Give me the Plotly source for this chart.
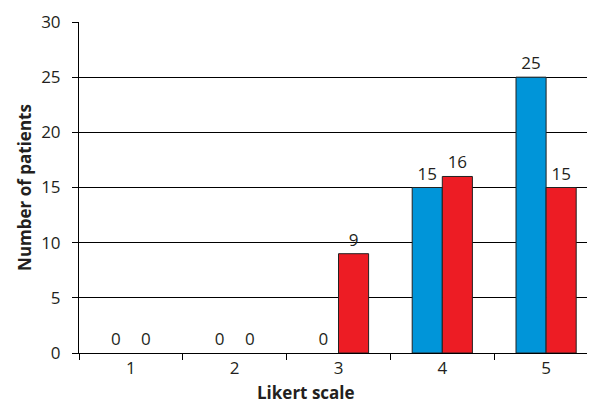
import plotly.graph_objects as go

categories = [1, 2, 3, 4, 5]
series_a = [0, 0, 0, 15, 25]
series_b = [0, 0, 9, 16, 15]
tick_labels = ["1", "2", "3", "4", "5"]

FONT = "Open Sans"
fig = go.Figure()
for vals, col in ((series_a, "#0095D9"), (series_b, "#ED1C24")):
    fig.add_trace(go.Bar(x=categories, y=vals,
                         marker=dict(color=col, line=dict(color="#222222",
                                                          width=[1 if v else 0 for v in vals])),
                         text=[str(v) for v in vals], textposition="outside",
                         textfont=dict(size=17, color="#231f20", family=FONT), cliponaxis=False))

fig.update_layout(
    width=595, height=405,
    margin=dict(l=71, r=5, t=14, b=60),
    barmode="group", bargap=0.42, bargroupgap=0,
    showlegend=False,
    plot_bgcolor="white", paper_bgcolor="white",
    font=dict(family=FONT, size=17, color="#231f20"),
)
fig.add_annotation(text="<b>Likert scale</b>", xref="paper", yref="paper",
                   x=0.437, y=-0.118, xanchor="center", yanchor="middle",
                   showarrow=False, font=dict(size=17, color="#231f20", family=FONT))
fig.update_xaxes(
    range=[0.5, 5.5], tickvals=categories, ticktext=tick_labels, ticks="",
    showline=True, linecolor="black", linewidth=1, showgrid=False, zeroline=False,
    minor=dict(tickvals=[0.5, 1.5, 2.5, 3.5, 4.5], ticks="outside", ticklen=6,
               tickcolor="black", showgrid=False),
    tickfont=dict(size=17), automargin=False,
)
fig.update_yaxes(
    range=[0, 30], tickvals=[0, 5, 10, 15, 20, 25, 30], ticks="outside", ticklen=6,
    tickcolor="black", showline=True, linecolor="black", linewidth=1,
    showgrid=True, gridcolor="black", gridwidth=1, zeroline=False,
    tickfont=dict(size=17), ticklabelstandoff=8, automargin=False,
    title=dict(text="<b>Number of patients</b>", font=dict(size=17), standoff=5),
)

fig.write_html("out.html")
